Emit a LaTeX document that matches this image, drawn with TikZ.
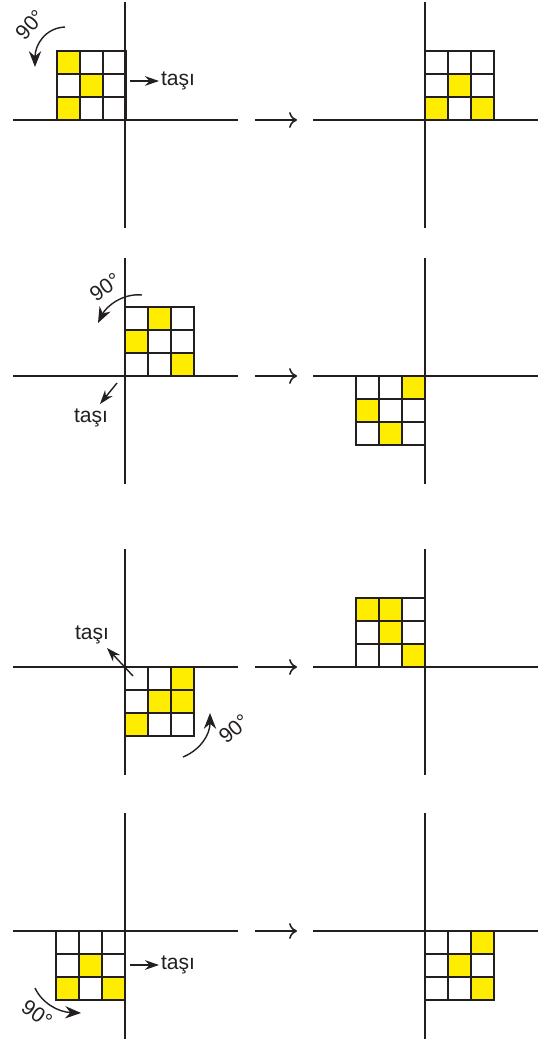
\documentclass[tikz,border=0pt]{standalone}
\usepackage{fontspec}
\setmainfont{Liberation Sans}
\usepackage{xcolor}
\usetikzlibrary{arrows.meta}
\definecolor{sari}{RGB}{255,237,0}
\definecolor{koyu}{RGB}{35,31,32}

% 3x3 tile: left x, top y, yellow cells (column/row)
\newcommand{\kare}[3]{%
  \foreach \sut/\sat in {#3} \fill[sari] ({#1+23*\sut},{#2+23*\sat}) rectangle ++(23,23);
  \foreach \sut in {0,1,2} \foreach \sat in {0,1,2}
    \draw[hucre] ({#1+23*\sut},{#2+23*\sat}) rectangle ++(23,23);
}

\begin{document}
\begin{tikzpicture}[
    x=0.02cm, y=-0.02cm,
    eksen/.style={draw=koyu, line width=0.9pt},
    hucre/.style={draw=koyu, line width=0.8pt},
    gecis/.style={draw=koyu, line width=0.9pt, -{To[length=4.5pt,width=9pt]}},
    tasiok/.style={draw=koyu, line width=0.8pt, -{Stealth[length=8pt,width=5.5pt]}},
    donus/.style={draw=koyu, line width=0.8pt, -{Stealth[length=9pt,width=7pt]}},
    etiket/.style={font=\fontsize{12}{14}\selectfont, text=koyu, inner sep=1pt}
]
\useasboundingbox (0,0) rectangle (545,1043);

% axes
\foreach \cx in {125,425}
  \foreach \cy in {120,376,667,931} {
    \draw[eksen] (\cx-112,\cy) -- (\cx+113,\cy);
    \draw[eksen] (\cx,\cy-118) -- (\cx,\cy+108);
  }
\foreach \cy in {120,376,667,931}
  \draw[gecis] (255,\cy) -- (297,\cy);

% row 1
\kare{57}{51}{0/0,1/1,0/2}
\kare{425}{51}{0/2,1/1,2/2}
\coordinate (basA) at (130,81);
\node[etiket, anchor=west] (tasiA) at (159,81) {taşı};
\draw[tasiok] (basA) -- (tasiA.west);
\draw[donus] (65,27) .. controls (45,28) and (35,45) .. (35,67);
\node[etiket, rotate=48] (aciA) at (30,25) {90°};

% row 2
\kare{125}{307}{1/0,0/1,2/2}
\kare{356}{376}{2/0,0/1,1/2}
\coordinate (basB) at (117,383);
\coordinate (ucB) at (100,404);
\node[etiket] (tasiB) at (91,418) {taşı};
\draw[tasiok] (basB) -- (ucB);
\draw[donus] (142,295) .. controls (122,293) and (106,307) .. (98,323);
\node[etiket, rotate=35] (aciB) at (105,287) {90°};

% row 3
\kare{125}{667}{2/0,1/1,2/1,0/2}
\kare{356}{598}{0/0,1/0,1/1,2/2}
\coordinate (basC) at (133,676);
\coordinate (ucC) at (107,648);
\node[etiket] (tasiC) at (92,635) {taşı};
\draw[tasiok] (basC) -- (ucC);
\draw[donus] (183,757) .. controls (200,750) and (210,735) .. (210,713);
\node[etiket, rotate=40] (aciC) at (234,729) {90°};

% row 4
\kare{56}{931}{1/1,0/2,2/2}
\kare{425}{931}{2/0,1/1,2/2}
\coordinate (basD) at (130,965);
\node[etiket, anchor=west] (tasiD) at (159,965) {taşı};
\draw[tasiok] (basD) -- (tasiD.west);
\draw[donus] (35,988) .. controls (42,1003) and (58,1012) .. (81,1013);
\node[etiket, rotate=-35] (aciD) at (37,1014) {90°};
\end{tikzpicture}
\end{document}
